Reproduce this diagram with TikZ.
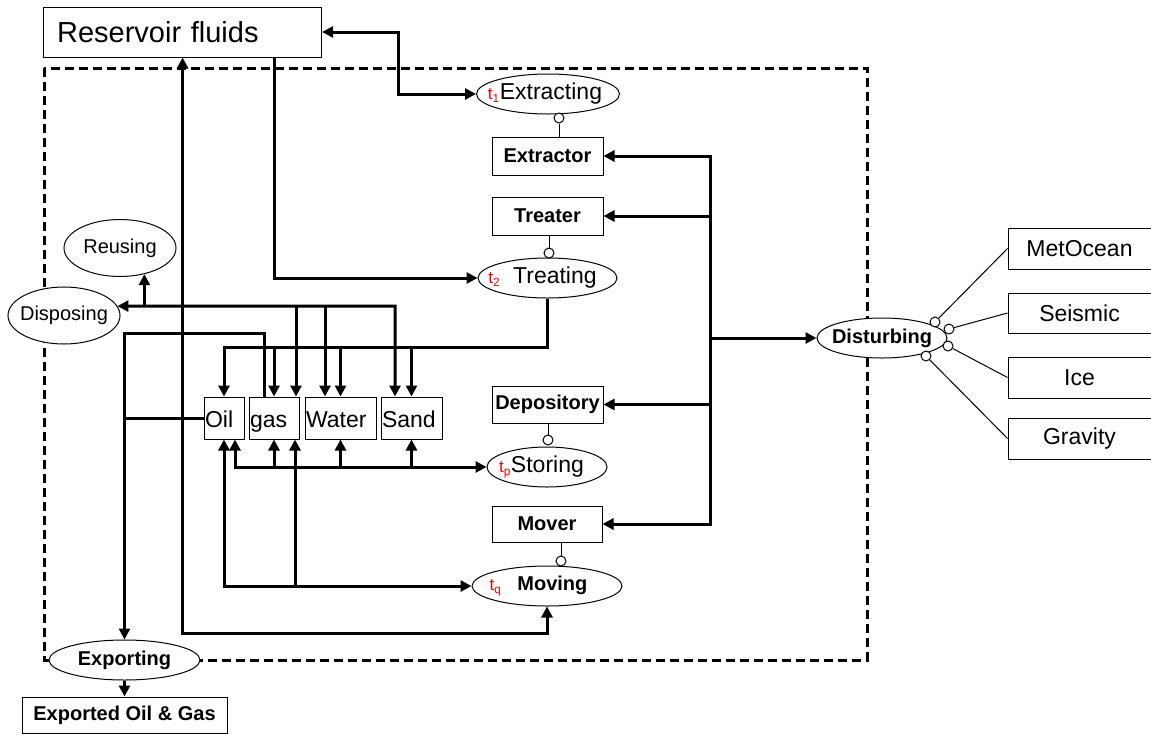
\documentclass[tikz,border=0pt]{standalone}
\usepackage{fontspec}
\setmainfont{Liberation Sans}
\usetikzlibrary{shapes.geometric,arrows.meta,calc}
\newcommand{\tlab}[1]{{\normalfont\color{red}\fontsize{17pt}{17pt}\selectfont t\textsubscript{#1}}}
\newcommand{\pstrut}{\rule[-6pt]{0pt}{30pt}}
\begin{document}
\begin{tikzpicture}[x=1pt,y=-1pt,
  >={Triangle[length=11pt,width=11pt]},
  box/.style={draw,line width=1pt,rectangle,inner sep=0pt,fill=white},
  ell/.style={draw,line width=1pt,ellipse,inner sep=0pt,fill=white},
  conn/.style={line width=3pt},
  arr/.style={line width=3pt,->},
  darr/.style={line width=3pt,<->},
  thinl/.style={line width=1pt},
  circ/.style={circle,draw,line width=1pt,fill=white,minimum size=10pt,inner sep=0pt},
  reg/.style={font=\fontsize{23pt}{26pt}\selectfont},
  bld/.style={font=\fontsize{20pt}{23pt}\selectfont\bfseries},
  sml/.style={font=\fontsize{20pt}{23pt}\selectfont},
]
\useasboundingbox (0,0) rectangle (1151,734);

% system boundary
\draw[line width=3pt, dash pattern=on 9pt off 5pt] (44,68) rectangle (867,660);

% nodes
\node[box, minimum width=278pt, minimum height=50pt, text width=251pt, align=left, inner xsep=13.5pt, font=\fontsize{29pt}{32pt}\selectfont] (res) at (182.6,32) {Reservoir fluids};

\node[ell, minimum width=143pt, minimum height=40pt, label={[reg,xshift=-3pt]center:\tlab{1}Extracting}] (extracting) at (548,94) {};
\node[box, bld, minimum width=111pt, minimum height=38pt] (extractor) at (547.5,156) {Extractor};
\node[box, bld, minimum width=111pt, minimum height=38pt] (treater) at (547.5,216) {Treater};
\node[ell, minimum width=139pt, minimum height=40pt, label={[reg,xshift=-5pt]center:\tlab{2}\hspace{13pt}Treating}] (treating) at (547.5,278) {};
\node[box, bld, minimum width=111pt, minimum height=37pt] (depository) at (547.5,404.5) {Depository};
\node[ell, minimum width=120pt, minimum height=40pt, label={[reg,xshift=-5.5pt]center:\tlab{p}Storing}] (storing) at (547,467) {};
\node[box, bld, minimum width=110pt, minimum height=36pt] (mover) at (547,524) {Mover};
\node[ell, minimum width=150pt, minimum height=40pt, label={[bld,xshift=-8.5pt]center:\tlab{q}\hspace{16pt}Moving}] (moving) at (547,586) {};

\node[ell, minimum width=130pt, minimum height=40pt, label={[bld]center:Disturbing}] (disturbing) at (882,338) {};
\node[box, reg, minimum width=143pt, minimum height=41pt] (metocean) at (1079.5,248.5) {MetOcean};
\node[box, reg, minimum width=143pt, minimum height=40pt] (seismic) at (1079.5,313) {Seismic};
\node[box, reg, minimum width=143pt, minimum height=41pt] (ice) at (1079.5,377.5) {Ice};
\node[box, reg, minimum width=143pt, minimum height=41pt] (gravity) at (1079.5,438.5) {Gravity};

\node[ell, minimum width=112pt, minimum height=57pt, label={[sml]center:Reusing}] (reusing) at (120,248) {};
\node[ell, minimum width=112pt, minimum height=57pt, label={[sml]center:Disposing}] (disposing) at (64,315.5) {};

\node[box, reg, minimum height=42pt, text width=38pt, align=left, inner xsep=1pt] (oil) at (224,418) {\pstrut Oil};
\node[box, reg, minimum height=42pt, text width=48pt, align=left, inner xsep=1pt] (gas) at (274,418) {\pstrut gas};
\node[box, reg, minimum height=42pt, text width=69pt, align=left, inner xsep=1pt] (water) at (340.5,418) {\pstrut Water};
\node[box, reg, minimum height=42pt, text width=59pt, align=left, inner xsep=1pt] (sand) at (411.5,418) {\pstrut Sand};

\node[ell, minimum width=151pt, minimum height=40pt, label={[bld]center:Exporting}] (exporting) at (124.5,660) {};
\node[box, bld, minimum width=205pt, minimum height=36pt] (exported) at (124.5,715) {Exported Oil \& Gas};

% helper coordinates
\coordinate (rtx) at (274,0);
\coordinate (mvy) at (0,633);
\coordinate (tby) at (0,347);
\coordinate (dsy) at (0,306);
\coordinate (exy) at (0,333);
\coordinate (sty) at (0,467);
\coordinate (dbx) at (710,0);
\coordinate (gR) at ([xshift=22pt]gas.north);
\coordinate (wL) at ([xshift=-15.5pt]water.north);
\coordinate (sL) at ([xshift=-16.5pt]sand.north);
\coordinate (gE) at ([xshift=-10pt]gas.north);
\coordinate (oR) at ([xshift=11pt]oil.south);
\coordinate (gR2) at ([xshift=21pt]gas.south);

% reservoir connections
\draw[darr] (res.east) -- (398,32) |- (extracting.west);
\draw[arr] (res.south -| rtx) |- (treating.west);
\draw[darr] (res.south) -- (res.south |- mvy) -| (moving.south);

% treating to products
\draw[arr] (treating.south) |- (oil.north |- tby) -- (oil.north);
\draw[arr] (gas.north |- tby) -- (gas.north);
\draw[arr] (water.north |- tby) -- (water.north);
\draw[arr] (sand.north |- tby) -- (sand.north);

% disposing
\draw[darr] (disposing.10) -- (sL |- dsy) -- (sL);
\draw[arr] (wL |- dsy) -- (wL);
\draw[arr] (gR |- dsy) -- (gR);
\draw[arr] (reusing.-47 |- dsy) -- (reusing.-47);

% exporting
\draw[arr] (gE) |- (exporting.north |- exy) -- (exporting.north);
\draw[conn] (oil.west) -- (oil.west -| exporting.north);
\draw[arr] (exporting.south) -- (exported.north);

% storing
\draw[darr] (oR) -- (oR |- sty) -- (storing.west);
\draw[arr] (gas.south |- sty) -- (gas.south);
\draw[arr] (water.south |- sty) -- (water.south);
\draw[arr] (sand.south |- sty) -- (sand.south);

% moving
\draw[darr] (oil.south) -- (oil.south |- moving.west) -- (moving.west);
\draw[arr] (gR2 |- moving.west) -- (gR2);

% disturbing bus
\draw[darr] (extractor.east) -- (extractor.east -| dbx) -- (mover.east -| dbx) -- (mover.east);
\draw[arr] (treater.east -| dbx) -- (treater.east);
\draw[arr] (depository.east -| dbx) -- (depository.east);
\draw[arr] (disturbing.west -| dbx) -- (disturbing.west);

% circles
\node[circ] (c1) at (559,118) {};
\node[circ] (c2) at (549,253) {};
\node[circ] (c3) at (548,440) {};
\node[circ] (c4) at (561,561) {};
\node[circ] (c5) at (935,322) {};
\node[circ] (c6) at (949,329) {};
\node[circ] (c7) at (948,346) {};
\node[circ] (c8) at (926,356) {};

\draw[thinl] (c1) -- (c1 |- extractor.north);
\draw[thinl] (c2) -- (c2 |- treater.south);
\draw[thinl] (c3) -- (c3 |- depository.south);
\draw[thinl] (c4) -- (c4 |- mover.south);
\draw[thinl] (c5) -- (metocean.west);
\draw[thinl] (c6) -- (seismic.west);
\draw[thinl] (c7) -- (ice.west);
\draw[thinl] (c8) -- (gravity.west);
\end{tikzpicture}
\end{document}
